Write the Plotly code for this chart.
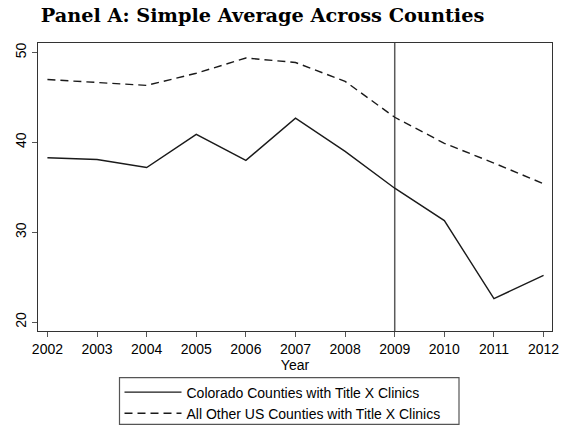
import plotly.graph_objects as go

# Average rate by year, two county groups
years = [2002, 2003, 2004, 2005, 2006, 2007, 2008, 2009, 2010, 2011, 2012]
colorado = [38.3, 38.1, 37.2, 40.9, 38.0, 42.7, 39.0, 34.9, 31.3, 22.6, 25.2]
other_us = [47.0, 46.65, 46.35, 47.7, 49.4, 48.9, 46.8, 42.8, 39.9, 37.7, 35.4]
y_ticks = [20, 30, 40, 50]
policy_year = 2009

W, H = 561, 427
ML, MR, MT, MB = 38, 9, 43, 96
PW, PH = W - ML - MR, H - MT - MB


def px_to_paper(px, py):
    """Convert page pixel position to paper coordinates of the plot area."""
    return (px - ML) / PW, (H - MB - py) / PH


fig = go.Figure()
fig.add_trace(go.Scatter(
    x=years, y=colorado, mode="lines",
    name="Colorado Counties with Title X Clinics",
    line=dict(color="#1a1a1a", width=1.4),
))
fig.add_trace(go.Scatter(
    x=years, y=other_us, mode="lines",
    name="All Other US Counties with Title X Clinics",
    line=dict(color="#1a1a1a", width=1.4, dash="8px,5px"),
))

# vertical reference line at the policy year
fig.add_shape(type="line", xref="x", yref="paper",
              x0=policy_year, x1=policy_year, y0=0, y1=1,
              line=dict(color="#5a5a5a", width=1.5), layer="below")

# legend frame
lx0, ly0 = px_to_paper(119.5, 377.7)
lx1, ly1 = px_to_paper(459, 424.3)
fig.add_shape(type="rect", xref="paper", yref="paper",
              x0=lx0, y0=ly1, x1=lx1, y1=ly0,
              line=dict(color="#555555", width=1.2), fillcolor="rgba(0,0,0,0)")

tick_font = dict(family="Liberation Sans, Arial, sans-serif", size=14, color="black")
legend_font = dict(family="Liberation Sans, Arial, sans-serif", size=14, color="black")

leg_x, leg_y = px_to_paper(119.5, 376.5)

fig.update_layout(
    width=W, height=H,
    margin=dict(l=ML, r=MR, t=MT, b=MB, autoexpand=False),
    paper_bgcolor="white", plot_bgcolor="white",
    title=dict(
        text="<b>Panel A: Simple Average Across Counties</b>",
        x=262.5 / W, xanchor="center", xref="container",
        y=1 - 15 / H, yanchor="middle",
        font=dict(family="DejaVu Serif, serif", size=19.3, color="black"),
    ),
    showlegend=True,
    legend=dict(
        x=leg_x, xanchor="left",
        y=leg_y, yanchor="top",
        borderwidth=0,
        bgcolor="rgba(0,0,0,0)",
        font=legend_font,
        itemwidth=57,
        tracegroupgap=0,
    ),
    xaxis=dict(
        range=[2001.81, 2012.17],
        tickmode="array", tickvals=years, ticktext=[str(y) for y in years],
        ticks="outside", ticklen=5, tickcolor="#555555", tickwidth=1,
        showgrid=False, zeroline=False,
        showline=True, linecolor="#333333", linewidth=1.2, mirror=True,
        tickfont=tick_font,
        title=dict(text="Year", font=tick_font, standoff=0),
    ),
    yaxis=dict(
        range=[19.0, 51.07],
        tickmode="array", tickvals=y_ticks,
        ticks="outside", ticklen=5, tickcolor="#555555", tickwidth=1,
        showgrid=False, zeroline=False,
        showline=True, linecolor="#333333", linewidth=1.2, mirror=True,
        tickfont=tick_font, tickangle=-90,
    ),
)

fig.write_html("out.html")
